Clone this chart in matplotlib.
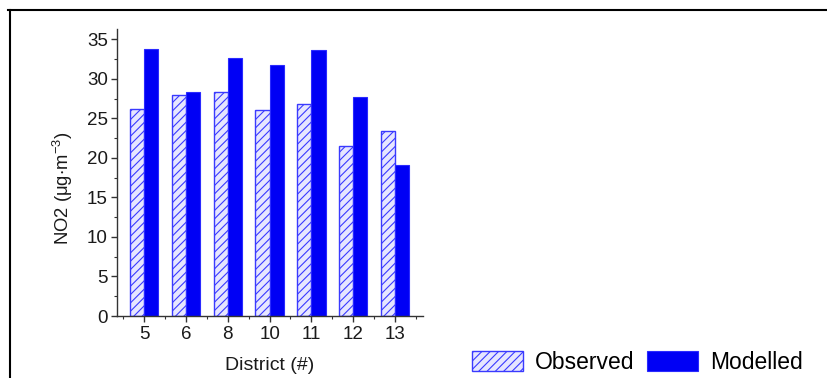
import matplotlib
matplotlib.use('Agg')
import matplotlib.pyplot as plt
import numpy as np
from matplotlib.lines import Line2D
from matplotlib.patches import Patch
from matplotlib.ticker import MultipleLocator, FixedLocator

districts = ['5', '6', '8', '10', '11', '12', '13']
observed = [26.2, 28.0, 28.3, 26.1, 26.8, 21.5, 23.4]
modelled = [33.8, 28.3, 32.7, 31.7, 33.6, 27.7, 19.1]

plt.rcParams['font.family'] = ['Liberation Sans', 'DejaVu Sans']
plt.rcParams['hatch.linewidth'] = 0.8

fig = plt.figure(figsize=(8.27, 3.78), dpi=100)
ax = fig.add_axes([0.1415, 0.164, 0.370, 0.759])

x = np.arange(len(districts))
w = 0.34
obs_face = '#e6e6ff'
obs_edge = '#3a3aff'
mod_color = '#0000f5'

ax.bar(x - w / 2, observed, w, facecolor=obs_face, edgecolor=obs_edge,
       hatch='////', linewidth=1.0)
ax.bar(x + w / 2, modelled, w, color=mod_color, edgecolor='#2a2aff', linewidth=0.8)

ax.set_xlim(-0.65, 6.67)
ax.set_ylim(0, 36.3)
ax.set_xticks(x)
ax.set_xticklabels(districts)
ax.xaxis.set_minor_locator(FixedLocator(np.arange(-0.5, len(districts), 1.0)))
ax.yaxis.set_major_locator(MultipleLocator(5))
ax.yaxis.set_minor_locator(MultipleLocator(2.5))

for s in ('top', 'right'):
    ax.spines[s].set_visible(False)
for s in ('left', 'bottom'):
    ax.spines[s].set_linewidth(1.0)
    ax.spines[s].set_color('#333333')

ax.tick_params(axis='both', which='major', length=4.5, width=1.0,
               direction='out', labelsize=13.5, colors='#333333',
               labelcolor='#1a1a1a')
ax.tick_params(axis='both', which='minor', length=2.5, width=0.8,
               direction='out', colors='#333333')
ax.tick_params(axis='x', which='major', pad=3)
ax.tick_params(axis='y', which='major', pad=2)

ax.set_xlabel('District (#)', fontsize=14, labelpad=10, color='#1a1a1a')
ax.set_ylabel(r'NO2 ($\mathregular{\mu g{\cdot}m^{-3}}$)', fontsize=13.3,
              color='#1a1a1a')
ax.yaxis.set_label_coords(-0.137, 0.446)

handles = [Patch(facecolor=obs_face, edgecolor=obs_edge, hatch='////', linewidth=1.0),
           Patch(facecolor=mod_color, edgecolor='#2a2aff', linewidth=0.8)]
fig.legend(handles, ['Observed', 'Modelled'], ncol=2, frameon=False,
           fontsize=16.5, loc='center left', bbox_to_anchor=(0.557, 0.042),
           handlelength=2.2, handleheight=0.95, handletextpad=0.55,
           columnspacing=0.55, borderpad=0)

# frame lines along top and left edge
fig.add_artist(Line2D([8 / 827, 1.0], [1 - 10 / 378, 1 - 10 / 378],
                      transform=fig.transFigure, color='black', linewidth=1.5))
fig.add_artist(Line2D([10 / 827, 10 / 827], [0, 1 - 10 / 378],
                      transform=fig.transFigure, color='black', linewidth=1.5))

fig.savefig('out.png', dpi=100)
